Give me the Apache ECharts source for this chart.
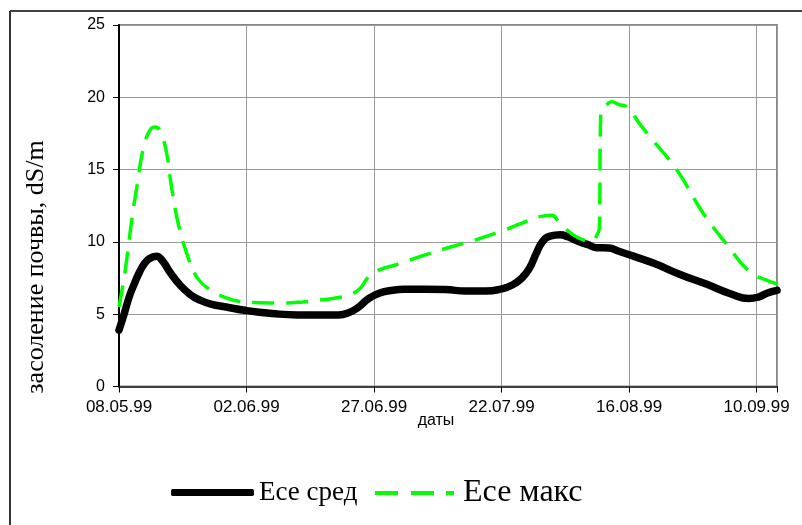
<!DOCTYPE html>
<html>
<head>
<meta charset="utf-8">
<script src="https://cdn.jsdelivr.net/npm/echarts@6/dist/echarts.min.js"></script>
<style>
  html, body { margin: 0; padding: 0; background: #fff; }
  #chart { width: 802px; height: 525px; }
</style>
</head>
<body>
<div id="chart"></div>
<script>
// Day offsets counted from 08.05.99
var tickLabels = ['08.05.99', '02.06.99', '27.06.99', '22.07.99', '16.08.99', '10.09.99'];

// Есе сред — mean soil salinity, dS/m
var avgDays = [0, 1, 2, 3, 4, 5, 6, 7.3, 8.5, 10, 12, 14, 16, 18, 21, 25, 30, 35, 40, 43, 45, 47, 49, 51, 53, 56, 60, 64, 68, 72, 75, 77, 79, 80.5, 81.8, 83, 84.5, 86.5, 88, 90, 92, 93.6, 96, 98, 101, 105, 110, 115, 120, 123.5, 125.5, 127, 129];
var avgVals = [3.9, 5.0, 6.2, 7.1, 7.9, 8.5, 8.85, 9.0, 8.7, 7.9, 7.0, 6.35, 5.95, 5.7, 5.5, 5.25, 5.05, 4.95, 4.95, 4.95, 5.1, 5.5, 6.1, 6.45, 6.62, 6.72, 6.72, 6.7, 6.6, 6.6, 6.75, 7.0, 7.5, 8.2, 9.2, 10.0, 10.4, 10.5, 10.35, 10.05, 9.8, 9.6, 9.58, 9.35, 9.0, 8.5, 7.75, 7.1, 6.4, 6.08, 6.2, 6.45, 6.65];

// Есе макс — maximum soil salinity, dS/m
var maxDays = [0, 1.2, 2.5, 3.5, 4.8, 6.2, 7.2, 8.2, 9.3, 10.3, 11.6, 13.3, 15.2, 17.8, 20.5, 23.5, 28, 32, 36, 40, 43, 45.3, 47.3, 48.5, 50, 55, 60, 65, 70, 75, 79, 82.5, 84.8, 86.4, 89, 91, 92.5, 93.6, 94.2, 94.4, 94.8, 95.8, 96.6, 98, 99.5, 102, 104, 109.3, 114.5, 119, 123.6, 126.9, 129];
var maxVals = [5.5, 8.0, 11.5, 13.8, 16.5, 17.8, 17.95, 17.5, 16.2, 13.8, 11.3, 9.2, 7.6, 6.7, 6.2, 5.9, 5.8, 5.78, 5.85, 6.0, 6.15, 6.35, 6.8, 7.4, 7.9, 8.5, 9.1, 9.65, 10.15, 10.75, 11.3, 11.75, 11.85, 11.3, 10.5, 10.15, 10.05, 10.4, 11.2, 18.3, 19.2, 19.55, 19.7, 19.5, 19.35, 18.2, 17.3, 15.0, 12.0, 9.9, 7.95, 7.35, 7.1];

var seriesNames = ['Есе сред', 'Есе макс'];

function pairs(xs, ys) {
  return xs.map(function (x, i) { return [x, ys[i]]; });
}

var chart = echarts.init(document.getElementById('chart'));

chart.setOption({
  animation: false,
  backgroundColor: '#ffffff',
  grid: {
    left: 119, top: 25, width: 658, height: 361.5,
    show: true, borderColor: '#888888', borderWidth: 2
  },
  xAxis: {
    type: 'value',
    min: 0, max: 129, interval: 25,
    axisLine: { show: true, lineStyle: { color: '#404040', width: 2 } },
    axisTick: { show: true, length: 6, lineStyle: { color: '#000', width: 1 } },
    splitLine: { show: true, lineStyle: { color: '#9a9a9a', width: 1 } },
    axisLabel: {
      margin: 12,
      fontFamily: 'Liberation Sans', fontSize: 17, color: '#000',
      formatter: function (v) {
        return v % 25 === 0 ? (tickLabels[v / 25] || '') : '';
      }
    }
  },
  yAxis: {
    type: 'value',
    min: 0, max: 25, interval: 5,
    axisLine: { show: true, lineStyle: { color: '#000', width: 2 } },
    axisTick: { show: true, length: 6, lineStyle: { color: '#000', width: 1 } },
    splitLine: { show: true, lineStyle: { color: '#9a9a9a', width: 1 } },
    axisLabel: {
      margin: 14,
      fontFamily: 'Liberation Sans', fontSize: 16, color: '#000'
    }
  },
  legend: [
    {
      data: [seriesNames[0]],
      left: 166, top: 474,
      icon: 'roundRect',
      itemWidth: 83, itemHeight: 7,
      textStyle: { fontFamily: 'Liberation Serif', fontSize: 27, color: '#000', padding: [11, 0, 0, 0] },
      selectedMode: false
    },
    {
      data: [seriesNames[1]],
      left: 370, top: 472,
      icon: 'path://M0,0H23V4H0Z M36,0H59V4H36Z M71,0H79V4H71Z',
      itemWidth: 79, itemHeight: 4,
      textStyle: { fontFamily: 'Liberation Serif', fontSize: 32, color: '#000', padding: [9, 0, 0, 4] },
      selectedMode: false
    }
  ],
  graphic: [
    { type: 'line', shape: { x1: 10, y1: 11, x2: 802, y2: 11 }, style: { stroke: '#000', lineWidth: 1.5 }, silent: true },
    { type: 'line', shape: { x1: 10, y1: 11, x2: 10, y2: 525 }, style: { stroke: '#333', lineWidth: 2 }, silent: true },
    {
      type: 'text', x: 36, y: 267, rotation: Math.PI / 2,
      style: {
        text: 'засоление почвы, dS/m',
        fontFamily: 'Liberation Serif', fontSize: 26, fill: '#000',
        textAlign: 'center', textVerticalAlign: 'middle'
      },
      silent: true
    },
    {
      type: 'text', x: 436, y: 421,
      style: {
        text: 'даты',
        fontFamily: 'Liberation Sans', fontSize: 16, fill: '#000',
        textAlign: 'center', textVerticalAlign: 'middle'
      },
      silent: true
    }
  ],
  series: [
    {
      name: seriesNames[0],
      type: 'line',
      data: pairs(avgDays, avgVals),
      showSymbol: false, symbol: 'none',
      smooth: 0.5,
      itemStyle: { color: '#000' },
      lineStyle: { color: '#000', width: 7.5, cap: 'round', join: 'round' },
      z: 2
    },
    {
      name: seriesNames[1],
      type: 'line',
      data: pairs(maxDays, maxVals),
      showSymbol: false, symbol: 'none',
      smooth: 0.5,
      itemStyle: { color: '#00ff00' },
      lineStyle: { color: '#00ff00', width: 3.5, type: [22, 12] },
      z: 3
    }
  ]
});
</script>
</body>
</html>
